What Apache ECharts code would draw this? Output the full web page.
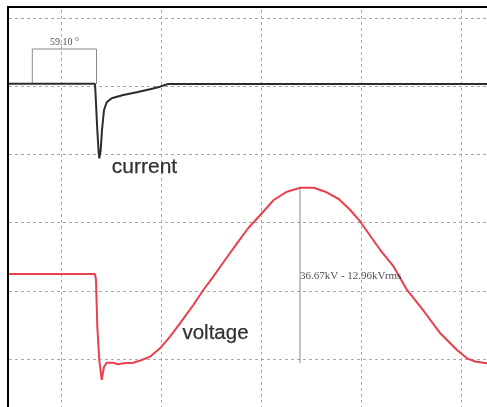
<!DOCTYPE html>
<html>
<head>
<meta charset="utf-8">
<script src="https://cdn.jsdelivr.net/npm/echarts@6/dist/echarts.min.js"></script>
<style>
html,body{margin:0;padding:0;background:#fff;}
#chart{width:487px;height:407px;}
</style>
</head>
<body>
<div id="chart"></div>
<script>
// x in screen divisions (time), y in screen divisions
var currentX = [0.47, 1.34, 1.35, 1.363, 1.377, 1.383, 1.397, 1.41, 1.43, 1.457, 1.507, 1.623, 1.757, 1.89, 1.99, 2.04, 2.073, 5.3];
var currentY = [5.035, 5.035, 4.754, 4.358, 4.021, 3.943, 4.065, 4.358, 4.651, 4.764, 4.823, 4.871, 4.911, 4.955, 4.993, 5.018, 5.032, 5.032];

var voltageX = [0.47, 1.34, 1.35, 1.363, 1.383, 1.407, 1.43, 1.457, 1.523, 1.573, 1.623, 1.723, 1.807, 1.89, 1.99, 2.09, 2.19, 2.323, 2.423, 2.523, 2.64, 2.76, 2.873, 2.993, 3.127, 3.26, 3.393, 3.527, 3.643, 3.777, 3.893, 3.993, 4.193, 4.327, 4.46, 4.627, 4.793, 4.96, 5.06, 5.14, 5.26, 5.3];
var voltageY = [2.246, 2.246, 2.158, 1.474, 0.985, 0.692, 0.887, 0.946, 0.946, 0.922, 0.937, 0.946, 0.985, 1.034, 1.157, 1.327, 1.523, 1.792, 2.012, 2.207, 2.452, 2.696, 2.921, 3.111, 3.331, 3.453, 3.512, 3.512, 3.453, 3.346, 3.185, 3.013, 2.598, 2.353, 2.012, 1.704, 1.377, 1.132, 1.010, 0.963, 0.937, 0.937];

// phase measurement bracket (59.10°)
var phaseBracketX = [0.713, 0.713, 1.355, 1.355];
var phaseBracketY = [5.032, 5.545, 5.545, 5.032];
var phaseLabel = '59.10 °';

// peak voltage measurement
var peakLineX = [3.39, 3.39];
var peakLineY = [3.515, 0.94];
var peakLabel = '36.67kV - 12.96kVrms';

var traceLabels = ['current', 'voltage'];
var traceLabelX = [1.835, 2.545];
var traceLabelY = [3.815, 1.371];

function zip(xs, ys) { return xs.map(function (x, i) { return [x, ys[i]]; }); }

var chart = echarts.init(document.getElementById('chart'), null, {renderer: 'canvas'});

var option = {
  animation: false,
  backgroundColor: '#ffffff',
  grid: {left: -39, top: -50.2, width: 530, height: 477.4, outerBoundsMode: 'none', containLabel: false},
  xAxis: {
    type: 'value', min: 0, max: 5.3, interval: 1,
    axisLine: {show: false}, axisTick: {show: false}, axisLabel: {show: false},
    splitLine: {show: true, lineStyle: {color: '#a8a8a8', width: 1, type: [3, 3]}}
  },
  yAxis: {
    type: 'value', min: 0, max: 7, interval: 1,
    axisLine: {show: false}, axisTick: {show: false}, axisLabel: {show: false},
    splitLine: {show: true, lineStyle: {color: '#a8a8a8', width: 1, type: [3, 3]}}
  },
  series: [
    {
      type: 'line', name: 'phase', data: zip(phaseBracketX, phaseBracketY),
      symbol: 'none', lineStyle: {color: '#8a8a8a', width: 1}, z: 2
    },
    {
      type: 'line', name: 'peak', data: zip(peakLineX, peakLineY),
      symbol: 'none', lineStyle: {color: '#8a8a8a', width: 1}, z: 2
    },
    {
      type: 'line', name: 'voltage', data: zip(voltageX, voltageY),
      symbol: 'none', smooth: false,
      lineStyle: {color: '#e8404c', width: 2}, z: 3
    },
    {
      type: 'line', name: 'current', data: zip(currentX, currentY),
      symbol: 'none', smooth: false,
      lineStyle: {color: '#2b2b33', width: 2}, z: 4
    },
    {
      type: 'scatter', name: 'labels', symbolSize: 0, z: 5,
      silent: true,
      data: [
        {value: [(phaseBracketX[1] + phaseBracketX[2]) / 2, phaseBracketY[1]],
          label: {show: true, position: 'top', distance: 2, formatter: phaseLabel,
            fontFamily: 'Liberation Serif', fontSize: 10, color: '#222', textBorderWidth: 0}},
        {value: [peakLineX[0], 2.22],
          label: {show: true, position: 'right', distance: 0, formatter: peakLabel,
            fontFamily: 'Liberation Serif', fontSize: 11, color: '#222', textBorderWidth: 0}},
        {value: [traceLabelX[0], traceLabelY[0]],
          label: {show: true, position: 'inside', formatter: traceLabels[0],
            fontFamily: 'Liberation Sans', fontSize: 21, color: '#000',
            textBorderColor: '#000', textBorderWidth: 0.25}},
        {value: [traceLabelX[1], traceLabelY[1]],
          label: {show: true, position: 'inside', formatter: traceLabels[1],
            fontFamily: 'Liberation Sans', fontSize: 20.5, color: '#000',
            textBorderColor: '#000', textBorderWidth: 0.25}}
      ]
    }
  ],
  graphic: [
    {type: 'rect', shape: {x: 0, y: 0, width: 487, height: 6}, style: {fill: '#fff'}, z: 99},
    {type: 'rect', shape: {x: 0, y: 0, width: 7, height: 407}, style: {fill: '#fff'}, z: 99},
    {type: 'rect', shape: {x: 7, y: 6, width: 480, height: 2}, style: {fill: '#000'}, z: 100},
    {type: 'rect', shape: {x: 7, y: 6, width: 2, height: 401}, style: {fill: '#000'}, z: 100}
  ]
};
chart.setOption(option);
</script>
</body>
</html>
